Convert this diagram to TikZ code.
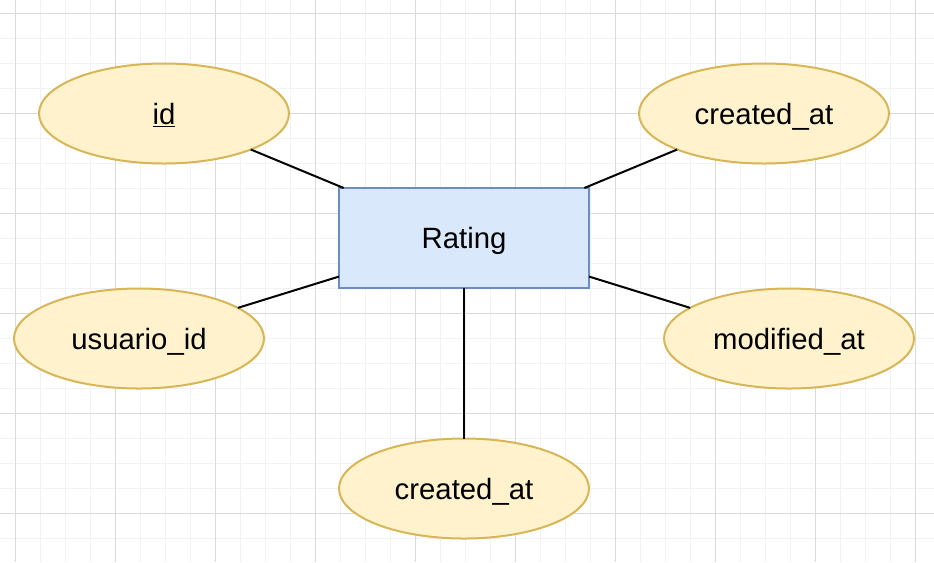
\documentclass[tikz,border=0pt]{standalone}
\usepackage{fontspec}
\setmainfont{Liberation Sans}
\usetikzlibrary{
shapes.geometric,
}
\definecolor{attrfill}{HTML}{FFF2CC}
\definecolor{attrline}{HTML}{D6B656}
\definecolor{entfill}{HTML}{DAE8FC}
\definecolor{entline}{HTML}{6C8EBF}
\definecolor{gridmajor}{HTML}{DADADA}
\definecolor{gridminor}{HTML}{F2F2F2}
\tikzset{
outer sep=0pt,
every node/.style={align=center, font=\fontsize{22}{26}\selectfont,
    text height=15.75pt, text depth=0pt},
attribute/.style={ellipse, draw=attrline, fill=attrfill, line width=1.5pt,
    minimum width=187.5pt, minimum height=75pt, inner sep=0pt},
entity/.style={rectangle, draw=entline, fill=entfill, line width=1.5pt,
    minimum width=187.5pt, minimum height=75pt, inner sep=0pt},
link/.style={line width=1.5pt, black},
}

\begin{document}
\begin{tikzpicture}[x=0.75pt, y=-0.75pt]
    \useasboundingbox (0,0) rectangle (934,562);
    % background grid
    \foreach \gx in {15.5,40.5,...,915.5}
        \draw[gridminor, line width=0.75pt] (\gx,0) -- (\gx,562);
    \foreach \gy in {13.5,38.5,...,538.5}
        \draw[gridminor, line width=0.75pt] (0,\gy) -- (934,\gy);
    \foreach \gx in {15.5,115.5,...,915.5}
        \draw[gridmajor, line width=0.75pt] (\gx,0) -- (\gx,562);
    \foreach \gy in {13.5,113.5,...,513.5}
        \draw[gridmajor, line width=0.75pt] (0,\gy) -- (934,\gy);

    \node (rating) [entity] at (464,238) {Rating};
    \node (id) [attribute] at (164,113.5) {\underline{id}};
    \node (created) [attribute] at (764,113.5) {created\_at};
    \node (usuario) [attribute] at (139,338.5) {usuario\_id};
    \node (modified) [attribute] at (789,338.5) {modified\_at};
    \node (createdb) [attribute] at (464,488.5) {created\_at};

    \foreach \attr in {id,created,usuario,modified,createdb}
        \draw[link] (\attr) -- (rating);
\end{tikzpicture}
\end{document}
